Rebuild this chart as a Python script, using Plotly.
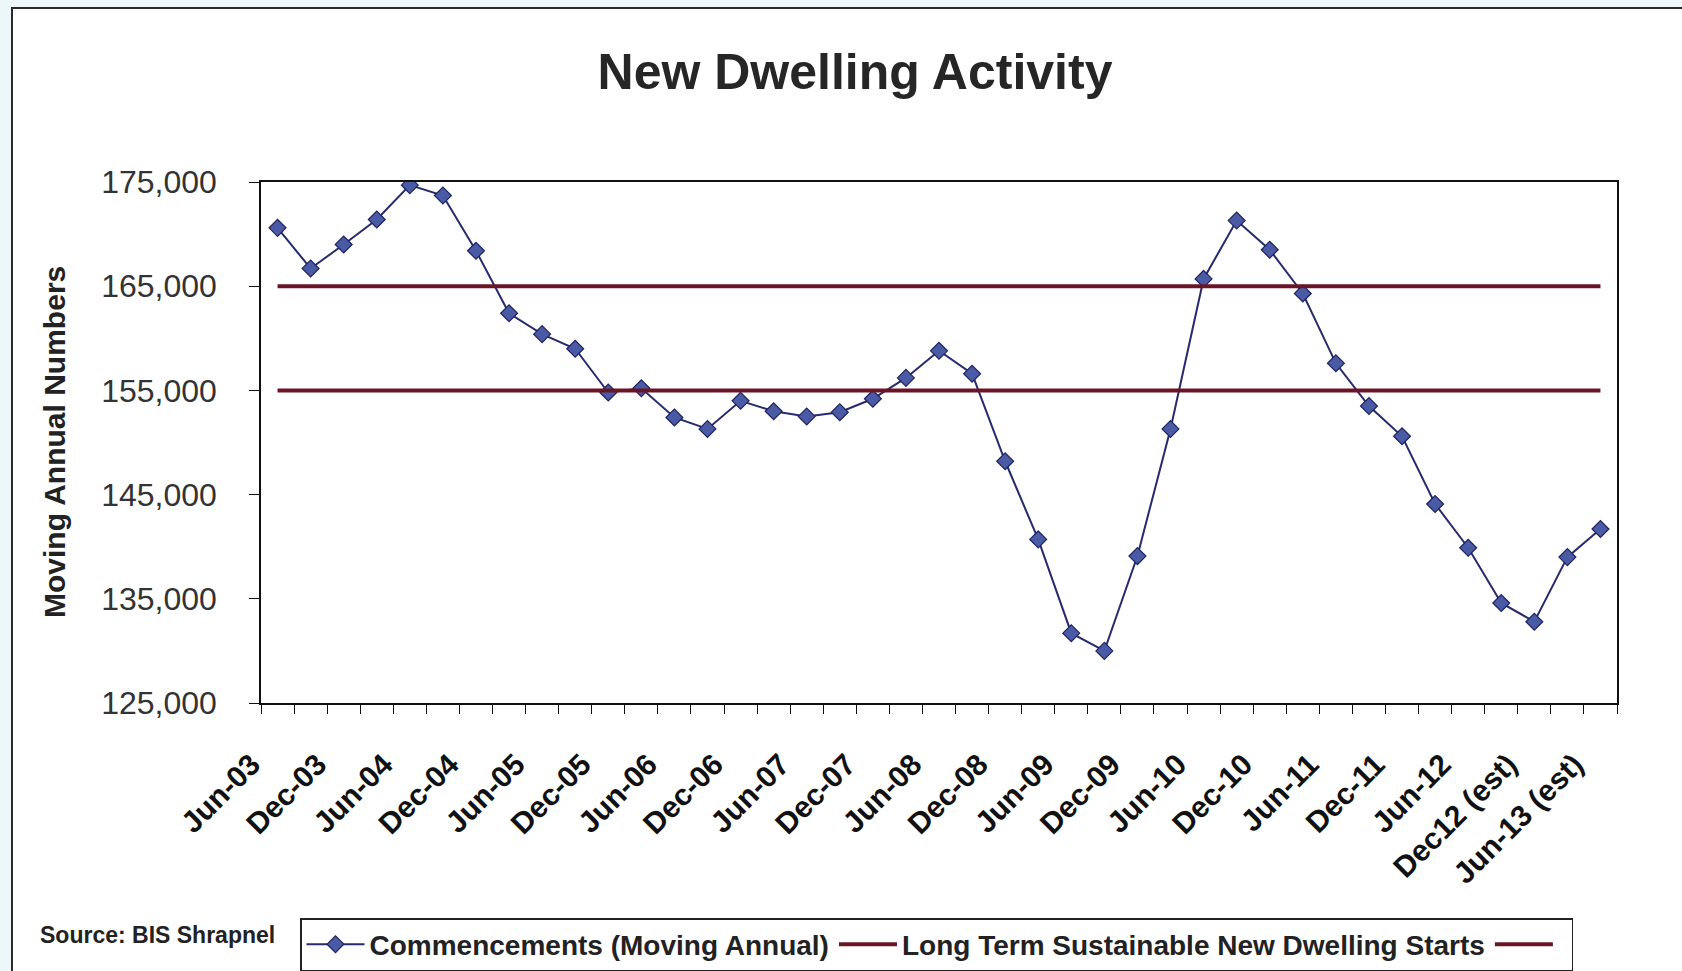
import plotly.graph_objects as go

# ---------------- data ----------------
quarters = [
    "Jun-03", "Sep-03", "Dec-03", "Mar-04", "Jun-04", "Sep-04", "Dec-04", "Mar-05",
    "Jun-05", "Sep-05", "Dec-05", "Mar-06", "Jun-06", "Sep-06", "Dec-06", "Mar-07",
    "Jun-07", "Sep-07", "Dec-07", "Mar-08", "Jun-08", "Sep-08", "Dec-08", "Mar-09",
    "Jun-09", "Sep-09", "Dec-09", "Mar-10", "Jun-10", "Sep-10", "Dec-10", "Mar-11",
    "Jun-11", "Sep-11", "Dec-11", "Mar-12", "Jun-12", "Sep-12", "Dec12 (est)", "Mar-13 (est)",
    "Jun-13 (est)",
]
commencements = [
    170600, 166700, 169000, 171400, 174700, 173700, 168400, 162400,
    160400, 159000, 154800, 155200, 152400, 151300, 154000, 153000,
    152500, 152900, 154200, 156200, 158800, 156600, 148200, 140700,
    131700, 130000, 139100, 151300, 165700, 171300, 168500, 164300,
    157600, 153500, 150600, 144100, 139900, 134600, 132800, 139000,
    141700,
]
sustainable_levels = [165000, 155000]
tick_labels = [
    "Jun-03", "", "Dec-03", "", "Jun-04", "", "Dec-04", "",
    "Jun-05", "", "Dec-05", "", "Jun-06", "", "Dec-06", "",
    "Jun-07", "", "Dec-07", "", "Jun-08", "", "Dec-08", "",
    "Jun-09", "", "Dec-09", "", "Jun-10", "", "Dec-10", "",
    "Jun-11", "", "Dec-11", "", "Jun-12", "", "Dec12 (est)", "",
    "Jun-13 (est)",
]
y_ticks = [125000, 135000, 145000, 155000, 165000, 175000]

FONT = "Liberation Sans, Arial, sans-serif"
W, H = 1682, 971
L, R, T, B = 261, 1617, 182, 703


def px_x(p):
    return (p - L) / (R - L)


def px_y(p):
    return (B - p) / (B - T)


fig = go.Figure()

fig.add_trace(go.Scatter(
    x=quarters, y=commencements, mode="lines+markers",
    name="Commencements (Moving Annual)",
    line=dict(color="#262A6E", width=2),
    marker=dict(symbol="diamond", size=13, color="#4A5AA5",
                line=dict(color="#1E2460", width=1.2)),
))
fig.add_trace(go.Scatter(
    x=[quarters[0], quarters[-1]], y=[sustainable_levels[0]] * 2, mode="lines",
    name="Long Term Sustainable New Dwelling Starts",
    line=dict(color="#6A1426", width=4),
))
fig.add_trace(go.Scatter(
    x=[quarters[0], quarters[-1]], y=[sustainable_levels[1]] * 2, mode="lines",
    name=" ",
    line=dict(color="#6A1426", width=4),
))

fig.update_layout(
    width=W, height=H,
    margin=dict(l=L, r=W - R, t=T, b=H - B, autoexpand=False),
    paper_bgcolor="#EDF7F9",
    plot_bgcolor="white",
    font=dict(family=FONT, color="#222222"),
    title=dict(text="<b>New Dwelling Activity</b>", x=855 / W, xanchor="center",
               y=1 - 71 / H, yanchor="middle", font=dict(size=50, color="#262626")),
    showlegend=True,
    legend=dict(orientation="h", xref="container", yref="container",
                x=300 / W, xanchor="left", y=1 - 918 / H, yanchor="top",
                bordercolor="#222222", borderwidth=1.5, bgcolor="white",
                font=dict(size=28, family=FONT, color="#222222", weight="bold"),
                itemwidth=58, tracegroupgap=0),
    xaxis=dict(
        type="category", categoryorder="array", categoryarray=quarters,
        range=[-0.5, len(quarters) - 0.5], automargin=False,
        tickmode="array", tickvals=quarters, ticktext=tick_labels,
        tickson="boundaries", ticks="outside", ticklen=9, tickcolor="#111", tickwidth=1.2,
        tickangle=-45, ticklabelstandoff=30, ticklabelshift=-26,
        tickfont=dict(size=30, family=FONT, color="#111", weight="bold"),
        showline=True, linecolor="#111", linewidth=1.6, mirror=True,
        showgrid=False, zeroline=False,
    ),
    yaxis=dict(
        range=[125000, 175000], tickmode="array", tickvals=y_ticks, automargin=False,
        tickformat=",", ticks="outside", ticklen=10, tickcolor="#111", tickwidth=1.2,
        ticklabelstandoff=26,
        tickfont=dict(size=32, family=FONT, color="#333"),
        showline=True, linecolor="#111", linewidth=1.6, mirror=True,
        showgrid=False, zeroline=False,
    ),
    shapes=[dict(type="rect", xref="paper", yref="paper", layer="below",
                 x0=px_x(12), x1=px_x(1720), y0=px_y(1010), y1=px_y(8),
                 fillcolor="white", line=dict(color="#2a2a2a", width=2))],
    annotations=[
        dict(text="<b>Moving Annual Numbers</b>", xref="paper", yref="paper",
             x=px_x(54), y=px_y(442), xanchor="center", yanchor="middle",
             textangle=-90, showarrow=False,
             font=dict(size=30, family=FONT, color="#222")),
        dict(text="<b>Source: BIS Shrapnel</b>", xref="paper", yref="paper",
             x=px_x(38), y=px_y(935), xanchor="left", yanchor="middle",
             showarrow=False, font=dict(size=23, family=FONT, color="#222")),
    ],
)

fig.write_html("out.html")
